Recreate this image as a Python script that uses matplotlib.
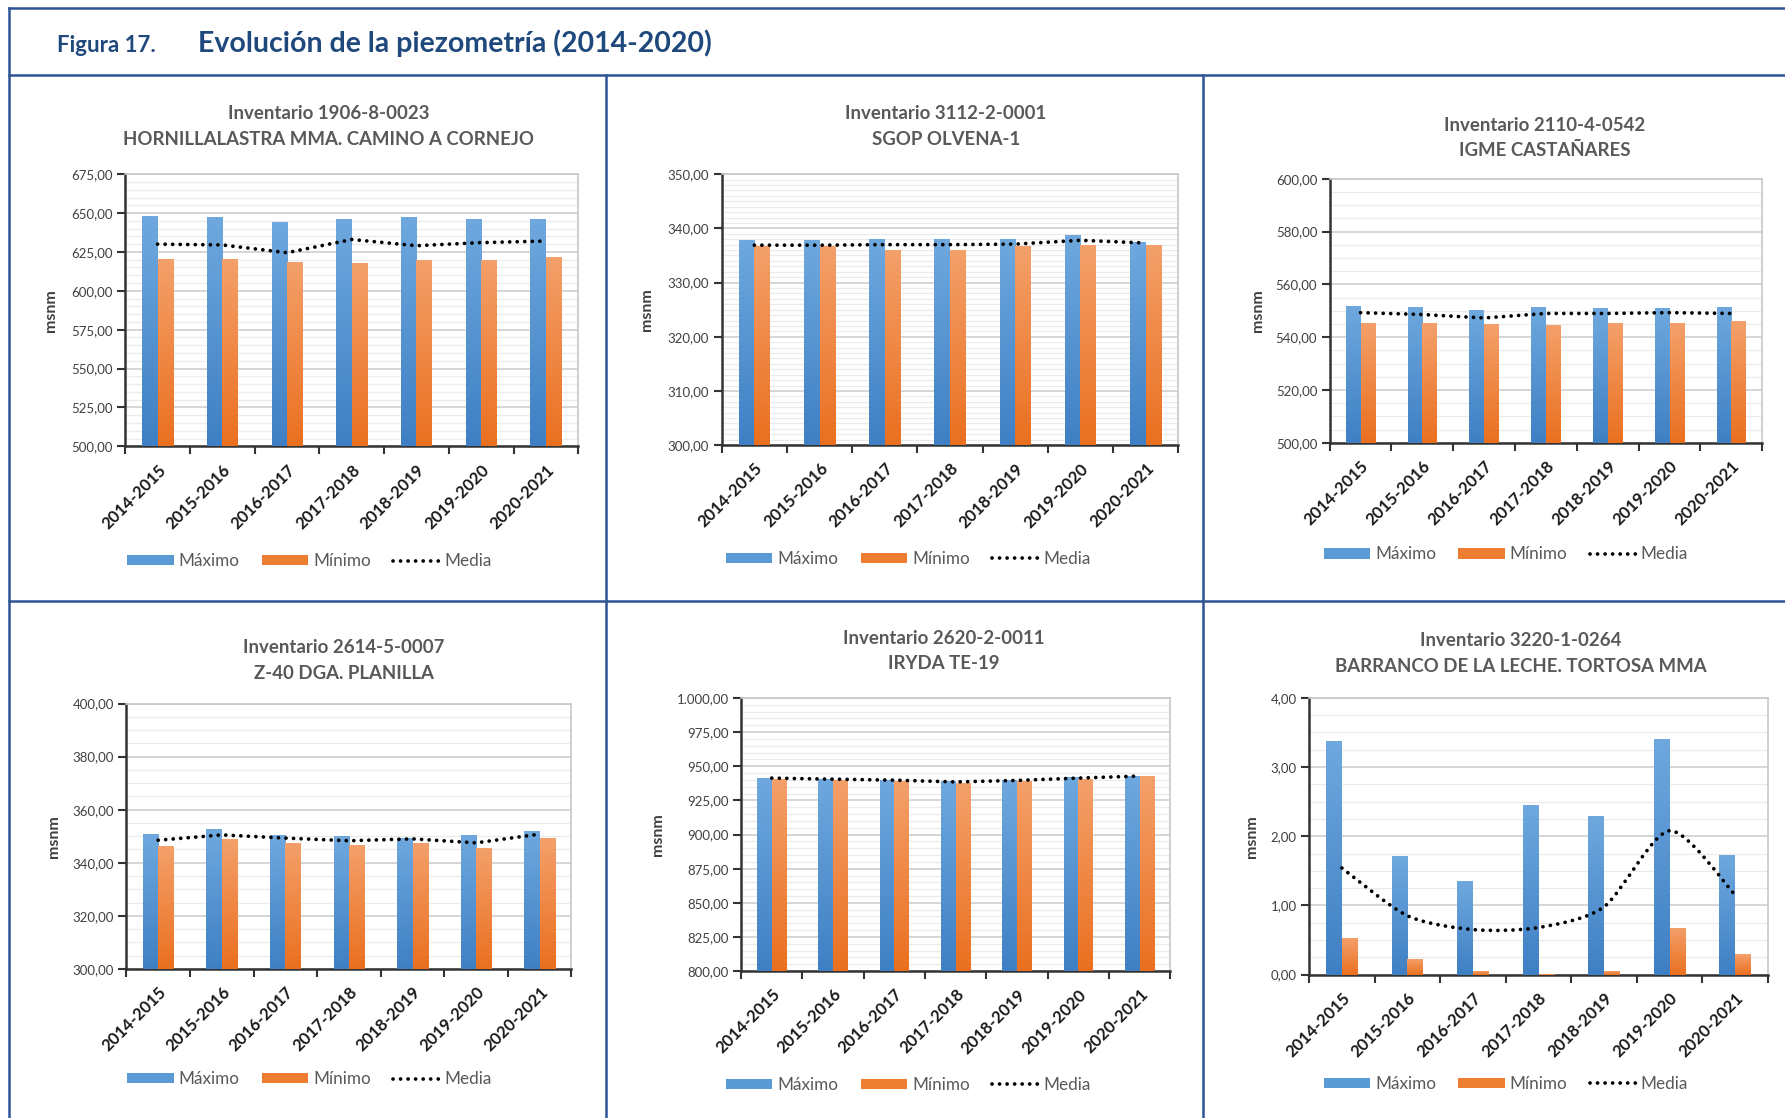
import numpy as np
import matplotlib
matplotlib.use("Agg")
import matplotlib.pyplot as plt
from matplotlib.lines import Line2D
from matplotlib.patches import Patch
from matplotlib.path import Path
from matplotlib.patches import PathPatch
from matplotlib.ticker import FuncFormatter, MultipleLocator

# ---------------- data ----------------
categories = ["2014-2015", "2015-2016", "2016-2017", "2017-2018",
              "2018-2019", "2019-2020", "2020-2021"]

titles = [
    "Inventario 1906-8-0023\nHORNILLALASTRA MMA. CAMINO A CORNEJO",
    "Inventario 3112-2-0001\nSGOP OLVENA-1",
    "Inventario 2110-4-0542\nIGME CASTAÑARES",
    "Inventario 2614-5-0007\nZ-40 DGA. PLANILLA",
    "Inventario 2620-2-0011\nIRYDA TE-19",
    "Inventario 3220-1-0264\nBARRANCO DE LA LECHE. TORTOSA MMA",
]

max_1 = [648.0, 647.5, 644.0, 646.5, 647.5, 646.5, 646.0]
min_1 = [620.5, 620.5, 618.5, 618.0, 620.0, 620.0, 621.5]
med_1 = [630.0, 629.5, 624.5, 633.0, 629.0, 631.0, 632.0]

max_2 = [337.8, 337.8, 338.0, 338.0, 338.0, 338.8, 337.5]
min_2 = [336.7, 336.7, 336.0, 336.0, 336.7, 336.9, 337.0]
med_2 = [336.9, 336.9, 337.0, 337.0, 337.1, 337.8, 337.3]

max_3 = [552.0, 551.5, 550.3, 551.5, 551.0, 551.2, 551.5]
min_3 = [545.5, 545.3, 545.0, 544.8, 545.5, 545.2, 546.0]
med_3 = [549.3, 548.6, 547.3, 549.0, 549.0, 549.3, 549.0]

max_4 = [350.8, 352.7, 350.3, 350.0, 349.5, 350.3, 352.0]
min_4 = [346.5, 349.0, 347.5, 346.8, 347.5, 345.5, 349.5]
med_4 = [348.5, 350.5, 349.3, 348.3, 349.0, 347.5, 350.8]

max_5 = [941.5, 941.0, 940.0, 939.0, 940.0, 942.0, 943.0]
min_5 = [941.0, 940.0, 939.0, 938.0, 939.0, 940.5, 943.0]
med_5 = [941.3, 940.5, 939.8, 938.5, 939.6, 941.3, 942.8]

max_6 = [3.37, 1.72, 1.35, 2.45, 2.29, 3.40, 1.73]
min_6 = [0.53, 0.23, 0.05, 0.01, 0.05, 0.68, 0.29]
med_6 = [1.54, 0.85, 0.65, 0.68, 0.98, 2.08, 1.15]

y_ranges = [(500, 675, 25, 5), (300, 350, 10, 1), (500, 600, 20, 5),
            (300, 400, 20, 5), (800, 1000, 25, 5), (0, 4, 1, 0.25)]

series = [(max_1, min_1, med_1), (max_2, min_2, med_2), (max_3, min_3, med_3),
          (max_4, min_4, med_4), (max_5, min_5, med_5), (max_6, min_6, med_6)]
smooth = [False, False, False, False, False, True]

legend_labels = ["Máximo", "Mínimo", "Media"]

# ---------------- layout (reference pixel grid 1568 x 982) ----------------
W, H = 1568.0, 982.0
axes_px = [  # left, right, top, bottom
    (110, 508, 153, 392),
    (634, 1035, 153, 391),
    (1168, 1548, 157, 389),
    (111, 502, 618, 851),
    (651, 1028, 613, 853),
    (1150, 1553, 613, 856),
]
title_px = [(289, 111), (831, 111), (1357, 121), (302, 580), (829, 572), (1336, 574)]
legend_px = [(272, 493), (798, 491), (1323, 487), (272, 948), (798, 953), (1323, 952)]
ylabel_px = [45, 568, 1105, 47, 578, 1100]

BLUE_TOP, BLUE_BOT = "#6EA8DE", "#3F80C4"
ORG_TOP, ORG_BOT = "#F4A06A", "#EA7020"
BLUE, ORANGE = "#5B9BD5", "#ED7D31"
GRAY_TXT = "#595959"
FRAME = "#2F5496"

plt.rcParams["font.family"] = ["Lato", "DejaVu Sans"]

fig = plt.figure(figsize=(17.85, 11.18), dpi=100)
fig.patch.set_facecolor("white")


def fmt_es(v, pos=None):
    s = f"{v:,.2f}"
    return s.replace(",", "X").replace(".", ",").replace("X", ".")


def hex2rgb(h):
    h = h.lstrip("#")
    return np.array([int(h[i:i + 2], 16) / 255 for i in (0, 2, 4)])


def grad_bars(ax, xs, heights, width, base, ctop, cbot):
    bars = ax.bar(xs, np.array(heights) - base, width, bottom=base,
                  color=cbot, edgecolor="none", zorder=3)
    top, bot = hex2rgb(ctop), hex2rgb(cbot)
    t = np.linspace(0, 1, 64)[:, None]
    img = (top[None, :] * (1 - t) + bot[None, :] * t)[:, None, :]
    for b in bars:
        x0, y0 = b.get_x(), b.get_y()
        im = ax.imshow(img, extent=[x0, x0 + b.get_width(), y0, y0 + b.get_height()],
                       aspect="auto", zorder=3.1, interpolation="bilinear")
        im.set_clip_path(b)
    return bars


def smooth_path(x, y, tension=0.4):
    x = np.asarray(x, float)
    y = np.asarray(y, float)
    verts = [(x[0], y[0])]
    codes = [Path.MOVETO]
    n = len(x)
    for i in range(n - 1):
        p0 = np.array([x[max(i - 1, 0)], y[max(i - 1, 0)]])
        p1 = np.array([x[i], y[i]])
        p2 = np.array([x[i + 1], y[i + 1]])
        p3 = np.array([x[min(i + 2, n - 1)], y[min(i + 2, n - 1)]])
        c1 = p1 + (p2 - p0) * tension / 3
        c2 = p2 - (p3 - p1) * tension / 3
        verts += [tuple(c1), tuple(c2), tuple(p2)]
        codes += [Path.CURVE4] * 3
    return Path(verts, codes)


x = np.arange(len(categories))
bw = 0.24
dot_style = (0, (0.01, 2.0))
LW = 2.7

for i in range(6):
    l, r, t, b = axes_px[i]
    ax = fig.add_axes([l / W, 1 - b / H, (r - l) / W, (b - t) / H])
    lo, hi, major, minor = y_ranges[i]
    mx, mn, md = series[i]

    grad_bars(ax, x - bw / 2, mx, bw, lo, BLUE_TOP, BLUE_BOT)
    grad_bars(ax, x + bw / 2, mn, bw, lo, ORG_TOP, ORG_BOT)

    if smooth[i]:
        pp = PathPatch(smooth_path(x, md), facecolor="none", edgecolor="black",
                       lw=LW, linestyle=dot_style, capstyle="round", zorder=5)
        ax.add_patch(pp)
    else:
        ax.plot(x, md, color="black", lw=LW, linestyle=dot_style,
                dash_capstyle="round", zorder=5)

    ax.set_xlim(-0.5, len(categories) - 0.5)
    ax.set_ylim(lo, hi)
    ax.yaxis.set_major_locator(MultipleLocator(major))
    ax.yaxis.set_minor_locator(MultipleLocator(minor))
    ax.yaxis.set_major_formatter(FuncFormatter(fmt_es))
    ax.grid(which="major", axis="y", color="#D0D0D0", lw=1.2, zorder=0)
    ax.grid(which="minor", axis="y", color="#EBEBEB", lw=0.9, zorder=0)
    ax.set_axisbelow(True)

    ax.set_xticks(x)
    ax.set_xticklabels(categories, rotation=45, ha="right", rotation_mode="anchor",
                       fontsize=12, fontweight="bold", color="#1A1A1A")
    ax.set_xticks(np.arange(len(categories) + 1) - 0.5, minor=True)
    ax.tick_params(axis="x", which="major", length=0, pad=11)
    ax.tick_params(axis="x", which="minor", length=6, width=1.5, color="#333333")
    ax.tick_params(axis="y", which="major", length=6, width=1.5, color="#333333",
                   labelsize=9.5, labelcolor="#404040", pad=3)
    ax.tick_params(axis="y", which="minor", length=0)

    for s in ("top", "right"):
        ax.spines[s].set_color("#C8C8C8")
        ax.spines[s].set_linewidth(1.2)
    for s in ("left", "bottom"):
        ax.spines[s].set_color("#333333")
        ax.spines[s].set_linewidth(1.8)

    tx, ty = title_px[i]
    fig.text(tx / W, 1 - ty / H, titles[i], ha="center", va="center",
             fontsize=13.4, fontweight="bold", color=GRAY_TXT, linespacing=1.6)

    fig.text(ylabel_px[i] / W, 1 - ((t + b) / 2) / H, "msnm", rotation=90,
             ha="center", va="center", fontsize=11.5, fontweight="bold", color="#404040")

    handles = [Patch(facecolor=BLUE, edgecolor="none"),
               Patch(facecolor=ORANGE, edgecolor="none"),
               Line2D([0], [0], color="black", lw=LW, linestyle=dot_style,
                      dash_capstyle="round")]
    lx, ly = legend_px[i]
    fig.legend(handles, legend_labels, loc="center", ncol=3,
               bbox_to_anchor=(lx / W, 1 - ly / H), frameon=False,
               fontsize=12.3, labelcolor=GRAY_TXT, handlelength=2.7,
               handleheight=0.55, handletextpad=0.3, columnspacing=1.3)

# ---------------- figure frame and title ----------------
def fline(x0, y0, x1, y1):
    fig.add_artist(Line2D([x0 / W, x1 / W], [1 - y0 / H, 1 - y1 / H],
                          color=FRAME, lw=1.8, transform=fig.transFigure))

fline(8, 7, 1568, 7)
fline(8, 7, 8, 982)
fline(8, 66, 1568, 66)
fline(8, 528, 1568, 528)
fline(532, 66, 532, 982)
fline(1057, 66, 1057, 982)

fig.text(50 / W, 1 - 40 / H, "Figura 17.", ha="left", va="center",
         fontsize=16, fontweight="bold", color="#1F497D")
fig.text(174 / W, 1 - 38 / H, "Evolución de la piezometría (2014-2020)",
         ha="left", va="center", fontsize=20.5, fontweight="bold", color="#1F497D")

fig.savefig("out.png", dpi=100, facecolor="white")
